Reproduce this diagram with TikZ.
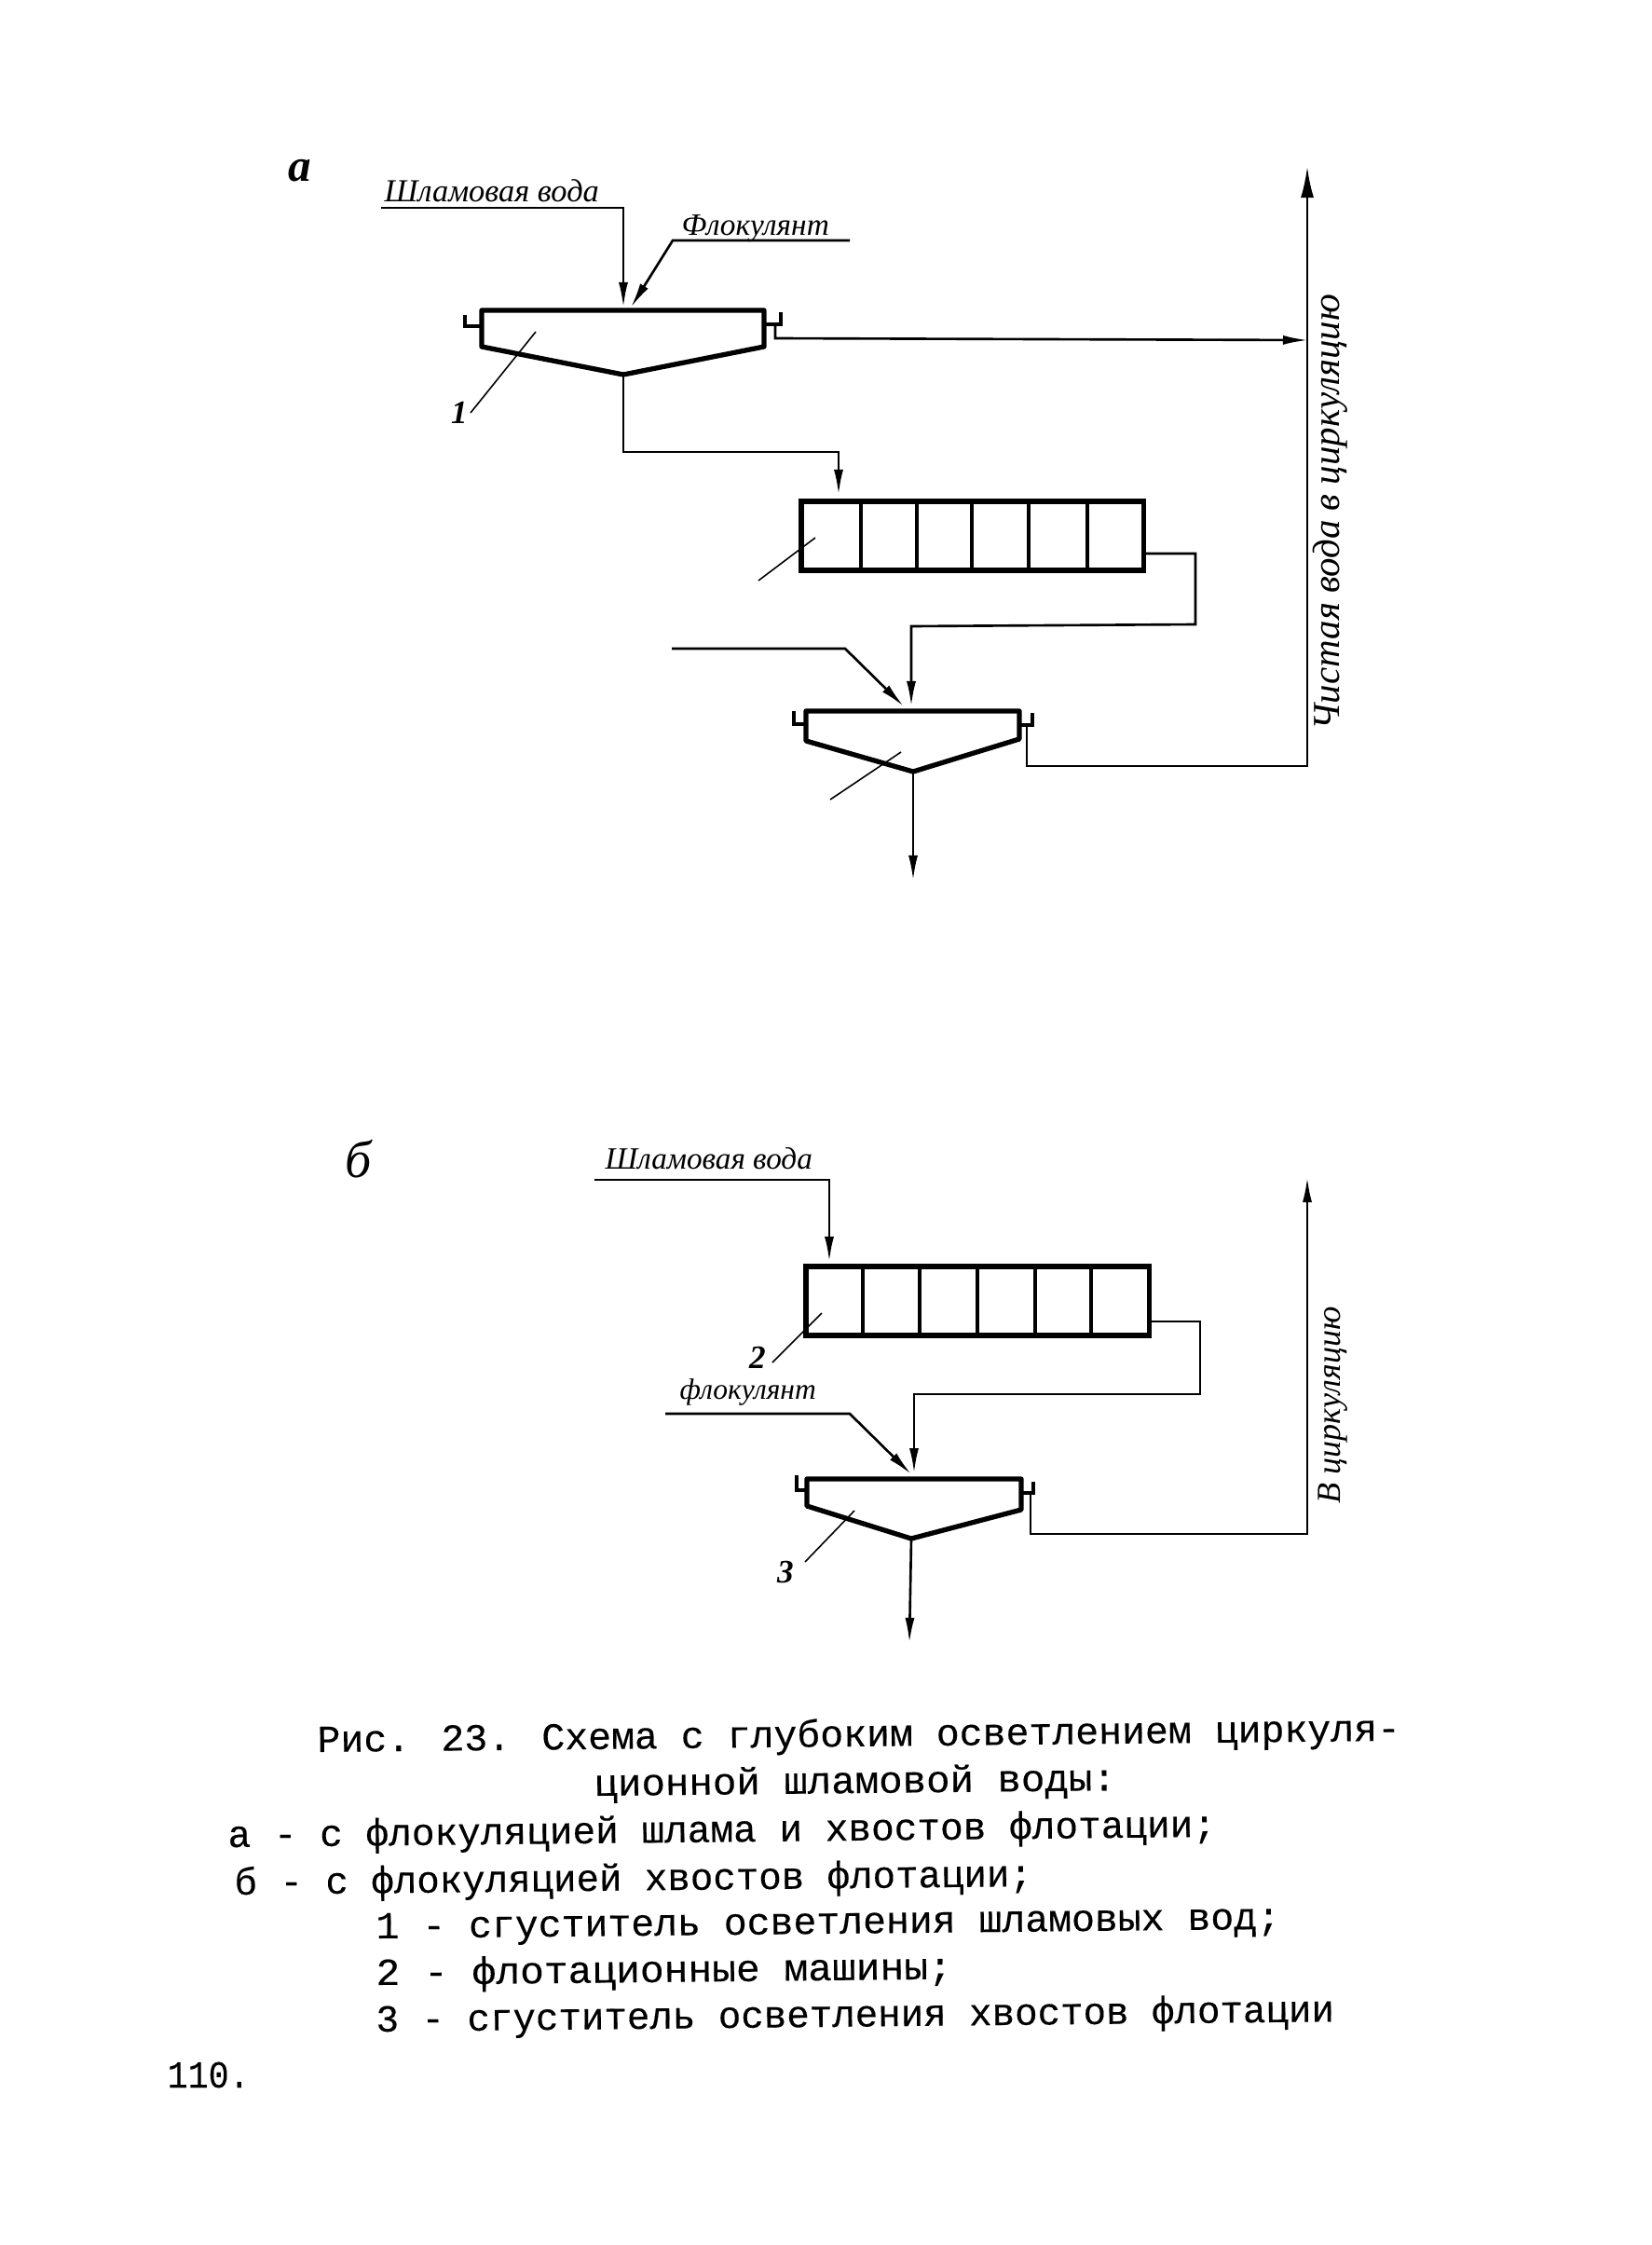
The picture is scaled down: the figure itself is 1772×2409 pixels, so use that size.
\documentclass[tikz,border=0pt]{standalone}
\usepackage{fontspec}
\usepackage{graphicx}
\setmainfont{Liberation Serif}
\newfontfamily\capfont[FakeBold=0.25]{Liberation Mono}
\usetikzlibrary{arrows.meta}
\newcommand{\hand}[2]{\resizebox{#1cm}{!}{\itshape\strut #2}}
\newcommand{\capline}[2]{\resizebox{#1cm}{\height}{#2}}
\tikzset{
  thin line/.style={line width=0.75pt,line join=miter},
  flow/.style={thin line,-{Latex[length=0.27cm,width=0.1cm]}},
  vessel/.style={line width=1.5pt,line join=round},
  cellbox/.style={draw,line width=1.5pt,inner sep=0pt,outer sep=0pt,anchor=north west},
  divider/.style={line width=1.1pt},
  lip/.style={line width=1.1pt},
  leader/.style={line width=0.45pt},
  captext/.style={font=\capfont\fontsize{11.65pt}{13pt}\selectfont,anchor=base west,inner sep=0pt,rotate=0.6},
  handtext/.style={anchor=base west,inner sep=0pt},
  handside/.style={anchor=base west,inner sep=0pt,rotate=90},
  numlabel/.style={font=\itshape\bfseries\fontsize{10pt}{12pt}\selectfont,inner sep=0pt},
  panel/.style={font=\itshape\bfseries\fontsize{14pt}{16pt}\selectfont,inner sep=0pt}
}
\begin{document}
\begin{tikzpicture}[x=0.01cm,y=-0.01cm]
\useasboundingbox[fill=white] (0,0) rectangle (1772,2409);
%% ---------- panel a ----------
\node[panel] (pa) at (322,183) {а};
\node[handtext] (ta1) at (412,217) {\hand{2.3}{Шламовая вода}};
\node[handtext] (ta2) at (731,252) {\hand{1.58}{Флокулянт}};
\node[handside] (ta3) at (1437,784) {\hand{4.67}{Чистая вода в циркуляцию}};
\node[numlabel] (na1) at (493,443) {1};
% thickener 1
\coordinate (A1tl) at (517,333);
\coordinate (A1tr) at (820,333);
\coordinate (A1br) at (820,372);
\coordinate (A1bl) at (517,372);
\coordinate (A1ap) at (669,402);
\draw[vessel] (A1tl) -- (A1tr) -- (A1br) -- (A1ap) -- (A1bl) -- cycle;
\coordinate (A1l1) at (499,338);
\coordinate (A1l2) at (499,350);
\coordinate (A1l3) at (517,350);
\draw[lip] (A1l1) -- (A1l2) -- (A1l3);
\coordinate (A1r1) at (838,335);
\coordinate (A1r2) at (838,348);
\coordinate (A1r3) at (820,348);
\draw[lip] (A1r1) -- (A1r2) -- (A1r3);
% machines a
\node[cellbox,minimum width=3.67cm,minimum height=0.74cm] (Ma) at (860,538) {};
\foreach \i/\x in {1/924,2/984,3/1043,4/1104,5/1167}{
  \coordinate (Mat\i) at (\x,538);
  \coordinate (Mab\i) at (\x,612);
  \draw[divider] (Mat\i) -- (Mab\i);
}
% thickener 3
\coordinate (A3tl) at (865,763);
\coordinate (A3tr) at (1094,763);
\coordinate (A3br) at (1094,793);
\coordinate (A3bl) at (865,795);
\coordinate (A3ap) at (980,828);
\draw[vessel] (A3tl) -- (A3tr) -- (A3br) -- (A3ap) -- (A3bl) -- cycle;
\coordinate (A3l1) at (852,763);
\coordinate (A3l2) at (852,777);
\coordinate (A3l3) at (865,777);
\draw[lip] (A3l1) -- (A3l2) -- (A3l3);
\coordinate (A3r1) at (1108,765);
\coordinate (A3r2) at (1108,778);
\coordinate (A3r3) at (1094,778);
\draw[lip] (A3r1) -- (A3r2) -- (A3r3);
% flows a
\coordinate (a1) at (409,223);
\coordinate (a2) at (669,223);
\coordinate (a3) at (669,330);
\draw[flow] (a1) -- (a2) -- (a3);
\coordinate (b1) at (912,258);
\coordinate (b2) at (722,258);
\coordinate (b3) at (677,330);
\draw[flow] (b1) -- (b2) -- (b3);
\coordinate (c1) at (832,348);
\coordinate (c2) at (832,363);
\coordinate (c3) at (1404,365);
\draw[flow] (c1) -- (c2) -- (c3);
\coordinate (d1) at (669,485);
\coordinate (d2) at (900,485);
\coordinate (d3) at (900,531);
\draw[flow] (A1ap) -- (d1) -- (d2) -- (d3);
\coordinate (e1) at (1227,594);
\coordinate (e2) at (1283,594);
\coordinate (e3) at (1283,670);
\coordinate (e4) at (978,672);
\coordinate (e5) at (978,758);
\draw[flow] (e1) -- (e2) -- (e3) -- (e4) -- (e5);
\coordinate (f1) at (721,696);
\coordinate (f2) at (907,696);
\coordinate (f3) at (970,758);
\draw[flow] (f1) -- (f2) -- (f3);
\coordinate (g1) at (980,945);
\draw[flow] (A3ap) -- (g1);
\coordinate (h1) at (1102,778);
\coordinate (h2) at (1102,822);
\coordinate (h3) at (1403,822);
\coordinate (h4) at (1403,179);
\draw[thin line,-{Latex[length=0.33cm,width=0.14cm]}] (h1) -- (h2) -- (h3) -- (h4);
% leaders a
\coordinate (la1) at (575,356); \coordinate (la2) at (505,443);
\draw[leader] (la1) -- (la2);
\coordinate (la3) at (875,577); \coordinate (la4) at (814,623);
\draw[leader] (la3) -- (la4);
\coordinate (la5) at (967,807); \coordinate (la6) at (891,858);
\draw[leader] (la5) -- (la6);
%% ---------- panel b ----------
\node[panel,font=\itshape\fontsize{16pt}{18pt}\selectfont] (pb) at (385,1244) {б};
\node[handtext] (tb1) at (649,1254) {\hand{2.22}{Шламовая вода}};
\node[handtext] (tb2) at (729,1501) {\hand{1.46}{флокулянт}};
\node[handside] (tb3) at (1438,1614) {\hand{2.11}{В циркуляцию}};
\node[numlabel] (nb2) at (813,1457) {2};
\node[numlabel] (nb3) at (843,1687) {3};
% machines b
\node[cellbox,minimum width=3.68cm,minimum height=0.74cm] (Mb) at (865,1359) {};
\foreach \i/\x in {1/926,2/987,3/1049,4/1111,5/1171}{
  \coordinate (Mbt\i) at (\x,1359);
  \coordinate (Mbb\i) at (\x,1433);
  \draw[divider] (Mbt\i) -- (Mbb\i);
}
% thickener b
\coordinate (B3tl) at (866,1587);
\coordinate (B3tr) at (1096,1587);
\coordinate (B3br) at (1096,1620);
\coordinate (B3bl) at (866,1616);
\coordinate (B3ap) at (978,1651);
\draw[vessel] (B3tl) -- (B3tr) -- (B3br) -- (B3ap) -- (B3bl) -- cycle;
\coordinate (B3l1) at (855,1583);
\coordinate (B3l2) at (855,1599);
\coordinate (B3l3) at (866,1599);
\draw[lip] (B3l1) -- (B3l2) -- (B3l3);
\coordinate (B3r1) at (1109,1590);
\coordinate (B3r2) at (1109,1602);
\coordinate (B3r3) at (1096,1602);
\draw[lip] (B3r1) -- (B3r2) -- (B3r3);
% flows b
\coordinate (i1) at (638,1266);
\coordinate (i2) at (890,1266);
\coordinate (i3) at (890,1354);
\draw[flow] (i1) -- (i2) -- (i3);
\coordinate (j1) at (1233,1418);
\coordinate (j2) at (1288,1418);
\coordinate (j3) at (1288,1496);
\coordinate (j4) at (981,1496);
\coordinate (j5) at (981,1581);
\draw[flow] (j1) -- (j2) -- (j3) -- (j4) -- (j5);
\coordinate (k1) at (714,1517);
\coordinate (k2) at (912,1517);
\coordinate (k3) at (978,1582);
\draw[flow] (k1) -- (k2) -- (k3);
\coordinate (m1) at (976,1763);
\draw[flow] (B3ap) -- (m1);
\coordinate (n1) at (1106,1602);
\coordinate (n2) at (1106,1646);
\coordinate (n3) at (1403,1646);
\coordinate (n4) at (1403,1263);
\draw[flow] (n1) -- (n2) -- (n3) -- (n4);
\coordinate (lb1) at (882,1409); \coordinate (lb2) at (829,1462);
\draw[leader] (lb1) -- (lb2);
\coordinate (lb3) at (917,1621); \coordinate (lb4) at (864,1676);
\draw[leader] (lb3) -- (lb4);
%% ---------- caption ----------
\node[captext] (c1t) at (340,1880) {\capline{11.62}{Рис. 23. Схема с глубоким осветлением циркуля-}};
\node[captext] (c2t) at (637,1927) {\capline{5.60}{ционной шламовой воды:}};
\node[captext] (c3t) at (244,1982) {\capline{10.60}{а - с флокуляцией шлама и хвостов флотации;}};
\node[captext] (c4t) at (251,2033) {\capline{8.56}{б - с флокуляцией хвостов флотации;}};
\node[captext] (c5t) at (403,2080) {\capline{9.70}{1 - сгуститель осветления шламовых вод;}};
\node[captext] (c6t) at (403,2130) {\capline{6.18}{2 - флотационные машины;}};
\node[captext] (c7t) at (403,2180) {\capline{10.28}{3 - сгуститель осветления хвостов флотации}};
\node[captext,rotate=-0.6] (c8t) at (179,2240) {\capline{0.88}{110.}};
\end{tikzpicture}
\end{document}
